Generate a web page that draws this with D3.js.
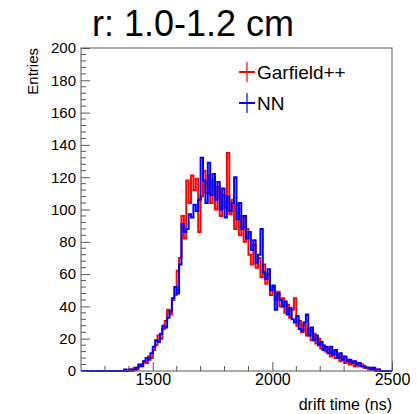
<!DOCTYPE html>
<html><head><meta charset="utf-8">
<script src="https://cdn.jsdelivr.net/npm/d3@7"></script>
<style>html,body{margin:0;padding:0;background:#fff;}svg{display:block;font-family:"Liberation Sans",Arial,sans-serif;}</style>
</head><body><svg id="c" width="417" height="414"></svg>
<script>
const title = "r: 1.0-1.2 cm";
const xLabel = "drift time (ns)";
const yLabel = "Entries";
const seriesNames = ["Garfield++", "NN"];
const xTicks = [1500, 2000, 2500];
const yTicks = [0, 20, 40, 60, 80, 100, 120, 140, 160, 180, 200];
const binStart = 1380, binWidth = 10;
const garfield = [0,0,1,0,2,1,3,4,6,5,9,8,13,16,22,20,26,31,38,35,44,47,62,70,96,82,118,104,121,112,119,86,108,124,110,121,104,118,100,114,96,109,101,135,97,106,88,103,84,96,80,88,72,66,78,64,70,58,66,54,60,47,52,44,49,40,45,36,41,33,38,45,28,31,24,29,22,26,19,23,17,20,14,16,12,14,9,12,8,10,6,9,5,7,4,6,3,5,3,4,2,2,1,2,1,0,1,0];
const nn = [1,0,1,1,1,2,4,3,6,8,7,11,15,19,18,23,28,27,33,37,45,52,48,66,91,86,88,97,95,103,99,106,132,118,104,129,109,122,106,117,100,113,95,108,99,104,120,94,104,88,96,82,86,75,81,67,72,88,61,57,63,50,53,38,48,44,40,43,35,39,32,30,34,26,25,30,35,22,27,19,22,16,18,13,15,11,15,10,13,8,11,7,9,6,7,5,6,4,5,3,3,2,2,1,2,1,1,0];
const colors = ["#ff0000", "#0000ff"];

const svg = d3.select("#c");
const m = {l: 81, t: 48, r: 392, b: 371};
const x = d3.scaleLinear().domain([1200, 2500]).range([m.l, m.r]);
const y = d3.scaleLinear().domain([0, 200]).range([m.b, m.t]);

function pts(vals){
  const p = [[1200, 0]];
  vals.forEach((v,i)=>p.push([binStart + i*binWidth, v]));
  p.push([binStart + vals.length*binWidth, 0]);
  p.push([2500, 0]);
  return p;
}
const line = d3.line().x(d=>x(d[0])).y(d=>y(d[1])).curve(d3.curveStepAfter);
[garfield, nn].forEach((s,i)=>{
  svg.append("path").attr("d", line(pts(s))).attr("fill","none")
    .attr("stroke", colors[i]).attr("stroke-width", 2);
});

// frame
svg.append("rect").attr("x", m.l).attr("y", m.t).attr("width", m.r-m.l).attr("height", m.b-m.t)
  .attr("fill","none").attr("stroke","#555").attr("stroke-width",1);

// y axis ticks
const yAxis = d3.axisLeft(y).tickValues(yTicks).tickFormat(d3.format("d")).tickSizeInner(-9).tickSizeOuter(0).tickPadding(5);
const gy = svg.append("g").attr("transform",`translate(${m.l},0)`).call(yAxis);
gy.select(".domain").remove();
gy.selectAll(".tick line").attr("stroke","#555");
gy.selectAll("text").attr("font-size",15).attr("fill","#000").attr("font-family","Liberation Sans, Arial, sans-serif");
const yMinor = d3.range(0, 201, 4).filter(v=>v%20!==0);
svg.append("g").selectAll("line").data(yMinor).join("line")
  .attr("x1", m.l).attr("x2", m.l+5).attr("y1", d=>y(d)).attr("y2", d=>y(d)).attr("stroke","#555");

// x axis ticks
const xAxis = d3.axisBottom(x).tickValues(xTicks).tickFormat(d3.format("d")).tickSizeInner(-9).tickSizeOuter(0).tickPadding(3);
const gx = svg.append("g").attr("transform",`translate(0,${m.b})`).call(xAxis);
gx.select(".domain").remove();
gx.selectAll(".tick line").attr("stroke","#555");
gx.selectAll("text").attr("font-size",16).attr("fill","#000").attr("font-family","Liberation Sans, Arial, sans-serif");
const xMinor = d3.range(1300, 2500, 100).filter(v=>v%500!==0);
svg.append("g").selectAll("line").data(xMinor).join("line")
  .attr("x1", d=>x(d)).attr("x2", d=>x(d)).attr("y1", m.b).attr("y2", m.b-5).attr("stroke","#555");

// labels
svg.append("text").attr("x", 193).attr("y", 36).attr("text-anchor","middle")
  .attr("font-size", 36).text(title);
svg.append("text").attr("x", m.r).attr("y", 410).attr("text-anchor","end")
  .attr("font-size", 16).text(xLabel);
svg.append("text").attr("transform", `translate(38,${m.t}) rotate(-90)`).attr("text-anchor","end")
  .attr("font-size", 15).text(yLabel);

// legend
const ly = [72, 103];
seriesNames.forEach((n,i)=>{
  const cx = 247;
  svg.append("line").attr("x1",cx-8).attr("x2",cx+8).attr("y1",ly[i]).attr("y2",ly[i]).attr("stroke",colors[i]).attr("stroke-width",2);
  svg.append("line").attr("x1",cx).attr("x2",cx).attr("y1",ly[i]-10).attr("y2",ly[i]+10).attr("stroke",colors[i]).attr("stroke-width",2).attr("stroke-opacity",0.6);
  svg.append("text").attr("x", 257).attr("y", ly[i]).attr("dy","0.35em").attr("font-size", 19).text(n);
});
</script></body></html>
